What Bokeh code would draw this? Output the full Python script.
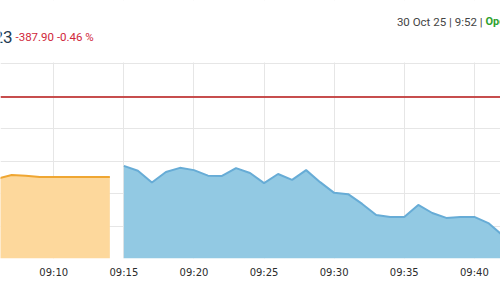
import pandas as pd
from bokeh.plotting import figure
from bokeh.models import Span, Label, FixedTicker, DatetimeTickFormatter, Range1d, BoxAnnotation
from bokeh.embed import file_html
from bokeh.resources import INLINE

# ---- data ----
pre_times = ["09:06", "09:07", "09:08", "09:09", "09:10", "09:11", "09:12", "09:13", "09:14"]
pre_values = [84746, 84757, 84755, 84751, 84751, 84751, 84751, 84751, 84751]

live_times = ["09:15", "09:16", "09:17", "09:18", "09:19", "09:20", "09:21", "09:22",
              "09:23", "09:24", "09:25", "09:26", "09:27", "09:28", "09:29", "09:30",
              "09:31", "09:32", "09:33", "09:34", "09:35", "09:36", "09:37", "09:38",
              "09:39", "09:40", "09:41", "09:42"]
live_values = [84785, 84770, 84734, 84766, 84779, 84772, 84755, 84754,
               84778, 84763, 84732, 84760, 84742, 84772, 84735, 84702,
               84698, 84668, 84634, 84628, 84628, 84665, 84640, 84625,
               84628, 84628, 84609, 84572]

prev_close = 84997.13
last_value = "84,609.23"
change_text = "-387.90 -0.46 %"
date_text = "30 Oct 25 | 9:52 |"
status_text = "Open"

tick_labels = ["09:10", "09:15", "09:20", "09:25", "09:30", "09:35", "09:40"]
y_ticks = [84500, 84600, 84700, 84800, 84900, 85000, 85100]

day = "2025-10-30 "
def to_dt(lst):
    return pd.to_datetime([day + t for t in lst])

pre_x = to_dt(pre_times)
live_x = to_dt(live_times)
tick_x = to_dt(tick_labels)

x_start = pd.Timestamp(day + "09:06:12")
x_end = pd.Timestamp(day + "09:41:52")
y_base = 84500
y_chart_top = 85103   # top of the chart area
y_canvas_top = 85294  # frame continues up to the canvas top (header zone)

p = figure(width=500, height=300, x_axis_type="datetime",
           x_range=Range1d(x_start, x_end), y_range=Range1d(y_base, y_canvas_top),
           output_backend="svg", toolbar_location=None,
           min_border_left=0, min_border_right=0, min_border_top=0, min_border_bottom=42)
p.outline_line_color = None
p.background_fill_color = "white"
p.border_fill_color = "white"

p.varea(x=pre_x, y1=y_base, y2=pre_values, fill_color="#fdd89c", fill_alpha=1.0)
p.line(x=pre_x, y=pre_values, line_color="#efa632", line_width=2)

p.varea(x=live_x, y1=y_base, y2=live_values, fill_color="#92c9e3", fill_alpha=1.0)
p.line(x=live_x, y=live_values, line_color="#67acd6", line_width=2)

p.add_layout(Span(location=prev_close, dimension="width", line_color="#c23b3b",
                  line_width=2, line_alpha=0.9))

# white header zone hiding the grid above the chart
p.add_layout(BoxAnnotation(bottom=y_chart_top, fill_color="white", fill_alpha=1.0,
                           line_color=None, level="glyph"))

# axes
p.yaxis.visible = False
p.ygrid.ticker = FixedTicker(ticks=y_ticks)
p.ygrid.grid_line_color = "#e6e6e6"
tick_ms = [t.value // 10**6 for t in tick_x]
p.xaxis.ticker = FixedTicker(ticks=tick_ms)
p.xaxis.formatter = DatetimeTickFormatter(minutes="%H:%M", hours="%H:%M", minsec="%H:%M")
p.xaxis.axis_line_color = None
p.xaxis.major_tick_line_color = None
p.xaxis.minor_tick_line_color = None
p.xaxis.major_tick_out = 0
p.xaxis.major_label_standoff = 8
p.xaxis.major_label_text_font = "DejaVu Sans"
p.xaxis.major_label_text_font_size = "10px"
p.xaxis.major_label_text_color = "#2b2b2b"
p.xgrid.grid_line_color = "#e6e6e6"

# header texts (screen units relative to frame bottom-left)
p.add_layout(Label(x=12, y=222, x_units="screen", y_units="screen", text=last_value,
                   text_align="right", text_baseline="middle", text_font="Roboto",
                   text_font_size="17px", text_color="#1f3b52"))
p.add_layout(Label(x=15, y=222, x_units="screen", y_units="screen", text=change_text,
                   text_align="left", text_baseline="middle", text_font="Roboto",
                   text_font_size="11.5px", text_color="#d0263a"))
p.add_layout(Label(x=482, y=237, x_units="screen", y_units="screen", text=date_text,
                   text_align="right", text_baseline="middle", text_font="Roboto",
                   text_font_size="11.5px", text_color="#444444"))
p.add_layout(Label(x=485, y=237, x_units="screen", y_units="screen", text=status_text,
                   text_align="left", text_baseline="middle", text_font="Roboto",
                   text_font_size="11px", text_font_style="bold", text_color="#2ea12e"))

open("out.html", "w").write(file_html(p, INLINE))
